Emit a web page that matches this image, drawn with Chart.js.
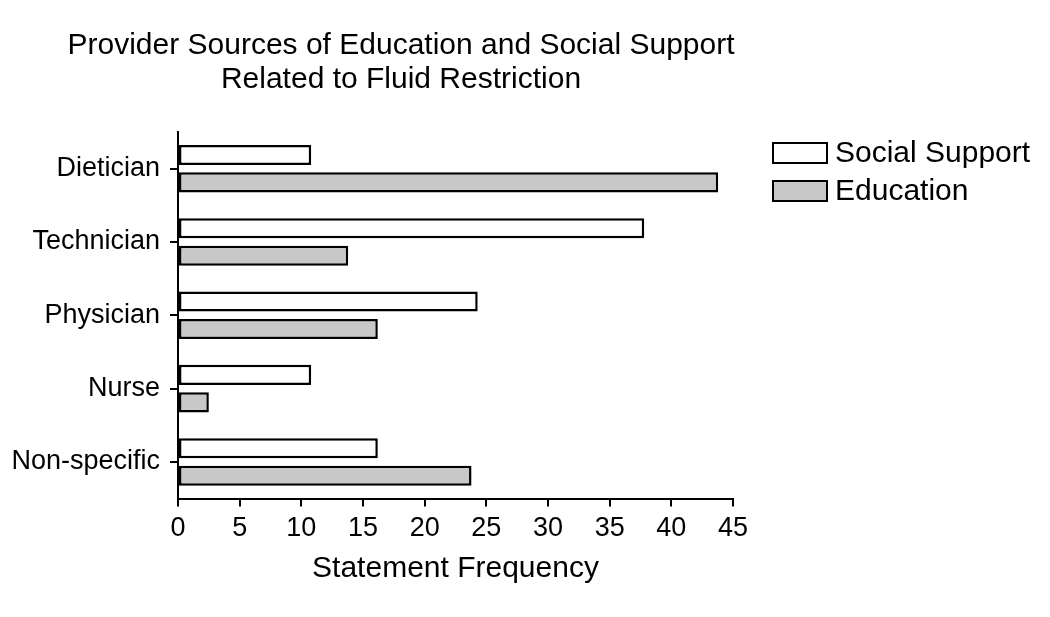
<!DOCTYPE html>
<html lang="en">
<head>
  <meta charset="UTF-8">
  <title>Provider Sources of Education and Social Support</title>
  <script src="https://cdn.jsdelivr.net/npm/chart.js"></script>
  <style>
    html, body {
      margin: 0;
      padding: 0;
      background: #ffffff;
    }
    #wrap {
      width: 1050px;
      height: 617px;
    }
  </style>
</head>
<body>
  <div id="wrap">
    <canvas id="fluidChart" width="1050" height="617"></canvas>
  </div>

  <script>
    // data
    const providers = ["Dietician", "Technician", "Physician", "Nurse", "Non-specific"];
    const socialSupport = [10.8, 37.8, 24.3, 10.8, 16.2];
    const education = [43.8, 13.8, 16.2, 2.5, 23.8];
    const xTicks = [0, 5, 10, 15, 20, 25, 30, 35, 40, 45];
    const titleLines = ["Provider Sources of Education and Social Support", "Related to Fluid Restriction"];

    const FONT = "'Liberation Sans', Arial, sans-serif";

    // title and legend drawn by hand so they sit where the original has them
    const decorations = {
      id: 'decorations',
      afterDraw(chart) {
        const ctx = chart.ctx;
        ctx.save();
        ctx.fillStyle = '#000';
        ctx.textAlign = 'center';
        ctx.textBaseline = 'middle';
        ctx.font = '30px ' + FONT;
        titleLines.forEach((line, i) => {
          ctx.fillText(line, 401, 46 + i * 34);
        });

        ctx.textAlign = 'left';
        ctx.font = '30px ' + FONT;
        chart.data.datasets.forEach((ds, i) => {
          const y = 143 + i * 38;
          ctx.fillStyle = ds.backgroundColor;
          ctx.fillRect(773, y, 54, 20);
          ctx.lineWidth = 2;
          ctx.strokeStyle = '#000';
          ctx.strokeRect(773, y, 54, 20);
          ctx.fillStyle = '#000';
          ctx.fillText(ds.label, 835, y + 11);
        });
        ctx.restore();
      }
    };

    new Chart(document.getElementById("fluidChart"), {
      type: "bar",
      data: {
        labels: providers,
        datasets: [
          {
            label: "Social Support",
            data: socialSupport,
            backgroundColor: "#ffffff",
            borderColor: "#000000",
            borderWidth: 2.5,
            borderSkipped: false,
            categoryPercentage: 0.75,
            barPercentage: 0.73
          },
          {
            label: "Education",
            data: education,
            backgroundColor: "#c8c8c8",
            borderColor: "#000000",
            borderWidth: 2.5,
            borderSkipped: false,
            categoryPercentage: 0.75,
            barPercentage: 0.73
          }
        ]
      },
      options: {
        indexAxis: 'y',
        responsive: false,
        animation: false,
        devicePixelRatio: 1,
        layout: {
          padding: { top: 132, right: 317, bottom: 26, left: 0 }
        },
        plugins: {
          legend: { display: false },
          title: { display: false },
          tooltip: { enabled: false }
        },
        scales: {
          x: {
            min: 0,
            max: 45,
            afterBuildTicks: (scale) => {
              scale.ticks = xTicks.map(v => ({ value: v }));
            },
            ticks: {
              color: '#000',
              padding: 6,
              maxRotation: 0,
              font: { family: FONT, size: 27 }
            },
            grid: {
              drawOnChartArea: false,
              drawTicks: true,
              tickLength: 8,
              color: '#000',
              lineWidth: 2
            },
            border: { color: '#000', width: 2 },
            title: {
              display: true,
              text: "Statement Frequency",
              color: '#000',
              padding: { top: 0, bottom: 4 },
              font: { family: FONT, size: 30 }
            }
          },
          y: {
            afterFit: (scale) => {
              scale.width = 178;
            },
            ticks: {
              color: '#000',
              padding: 10,
              font: { family: FONT, size: 27 }
            },
            grid: {
              offset: false,
              drawOnChartArea: false,
              drawTicks: true,
              tickLength: 8,
              color: '#000',
              lineWidth: 2
            },
            border: { color: '#000', width: 2 }
          }
        }
      },
      plugins: [decorations]
    });
  </script>
</body>
</html>
